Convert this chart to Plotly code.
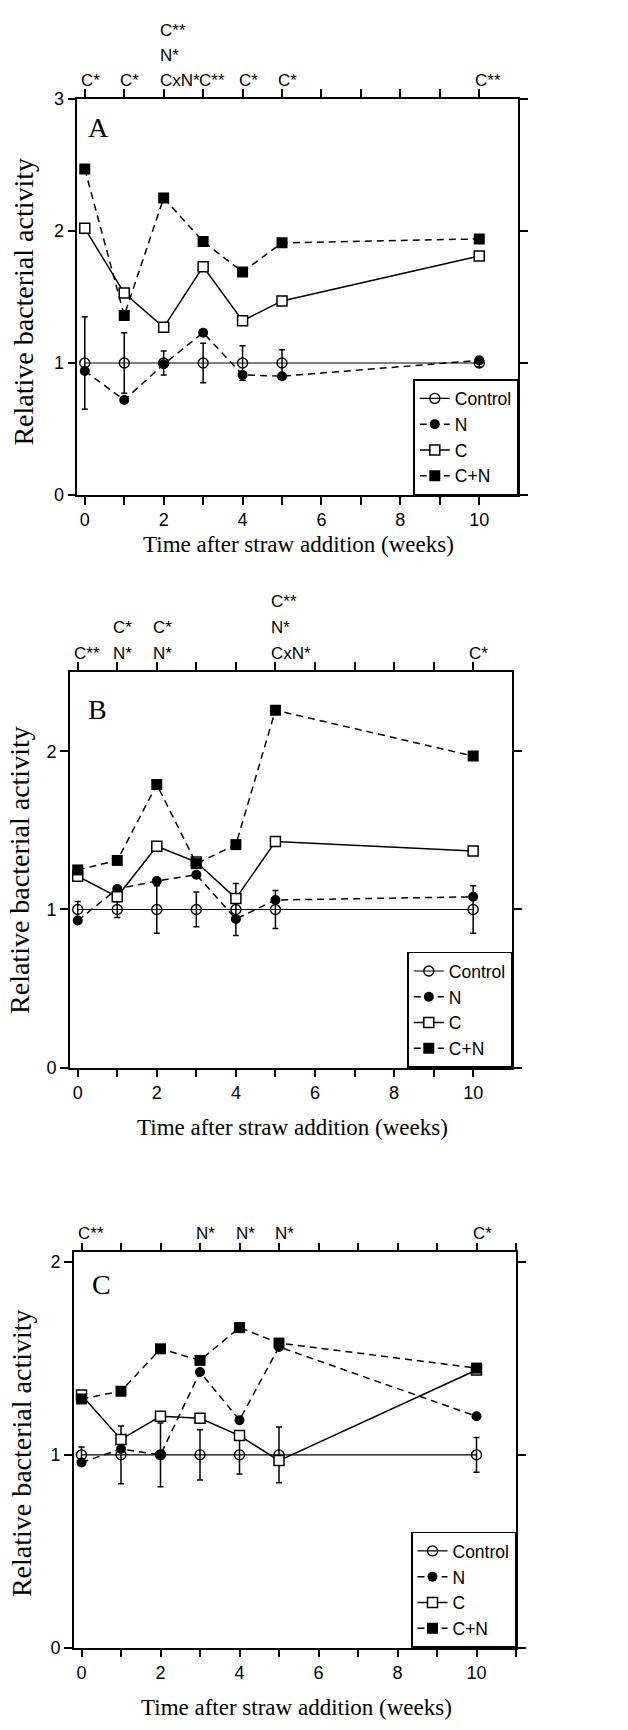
import plotly.graph_objects as go

W, H = 628, 1730

weeks = [0, 1, 2, 3, 4, 5, 10]
series_names = ["Control", "N", "C", "C+N"]

# Panel A
ctrl_A = [1, 1, 1, 1, 1, 1, 1]
ctrl_err_A = [0.35, 0.23, 0.09, 0.15, 0.13, 0.10, 0.03]
n_A = [0.94, 0.72, 0.99, 1.23, 0.91, 0.90, 1.02]
c_A = [2.02, 1.53, 1.27, 1.73, 1.32, 1.47, 1.81]
cn_A = [2.47, 1.36, 2.25, 1.92, 1.69, 1.91, 1.94]
sig_x_A = [0, 1, 2, 3, 4, 5, 10]
sig_text_A = ["C*", "C*", "C**\nN*\nCxN*", "C**", "C*", "C*", "C**"]

# Panel B
ctrl_B = [1, 1, 1, 1, 1, 1, 1]
ctrl_err_B = [0.05, 0.05, 0.15, 0.11, 0.165, 0.12, 0.15]
n_B = [0.93, 1.13, 1.18, 1.22, 0.94, 1.06, 1.08]
c_B = [1.21, 1.08, 1.40, 1.30, 1.07, 1.43, 1.37]
cn_B = [1.25, 1.31, 1.79, 1.29, 1.41, 2.26, 1.97]
sig_x_B = [0, 1, 2, 5, 10]
sig_text_B = ["C**", "C*\nN*", "C*\nN*", "C**\nN*\nCxN*", "C*"]

# Panel C
ctrl_C = [1, 1, 1, 1, 1, 1, 1]
ctrl_err_C = [0.04, 0.15, 0.165, 0.13, 0.10, 0.145, 0.09]
n_C = [0.96, 1.03, 1.00, 1.43, 1.18, 1.56, 1.20]
c_C = [1.31, 1.08, 1.20, 1.19, 1.10, 0.97, 1.44]
cn_C = [1.29, 1.33, 1.55, 1.49, 1.66, 1.58, 1.45]
sig_x_C = [0, 3, 4, 5, 10]
sig_text_C = ["C**", "N*", "N*", "N*", "C*"]

x_tickvals = list(range(0, 12))
x_ticktext = ["0", "", "2", "", "4", "", "6", "", "8", "", "10", ""]
panel_letters = ["A", "B", "C"]
x_title = "Time after straw addition (weeks)"
y_title = "Relative bacterial activity"

# geometry (pixels): left, right, top, bottom, xrange, yrange, yticks
panels = [
    dict(l=77.3, r=518.3, t=90, b=490.7, xr=[-0.19, 10.99], yr=[0, 3], yt=[0, 1, 2, 3],
         lab=(98, 119), xt=(298, 541), yti=(24, 295),
         data=(ctrl_A, ctrl_err_A, n_A, c_A, cn_A), sig=(sig_x_A, sig_text_A), rowgap=25),
    dict(l=70, r=512.3, t=670, b=1070, xr=[-0.195, 10.99], yr=[0, 2.5], yt=[0, 1, 2],
         lab=(97, 708), xt=(292, 1131), yti=(20, 870),
         data=(ctrl_B, ctrl_err_B, n_B, c_B, cn_B), sig=(sig_x_B, sig_text_B), rowgap=26.5),
    dict(l=74, r=516, t=1257, b=1656.7, xr=[-0.19, 11.0], yr=[0, 2.05], yt=[0, 1, 2],
         lab=(101, 1289), xt=(296, 1717), yti=(21, 1460),
         data=(ctrl_C, ctrl_err_C, n_C, c_C, cn_C), sig=(sig_x_C, sig_text_C), rowgap=25),
]


def px(x):
    return x / W


def py(y):
    return 1 - y / H


SANS = "Liberation Sans, Arial, sans-serif"
SERIF = "Liberation Serif, Times New Roman, serif"

fig = go.Figure()
layout = dict(width=W, height=H, margin=dict(l=0, r=0, t=0, b=0),
              paper_bgcolor="white", plot_bgcolor="white", showlegend=True)
annotations = []

for i, p in enumerate(panels):
    k = i + 1
    xa = "x" if k == 1 else f"x{k}"
    ya = "y" if k == 1 else f"y{k}"
    leg = "legend" if k == 1 else f"legend{k}"
    ctrl, ctrl_err, n, c, cn = p["data"]

    fig.add_trace(go.Scatter(
        x=weeks, y=ctrl, name=series_names[0], xaxis=xa, yaxis=ya, legend=leg,
        mode="lines+markers", line=dict(color="black", width=1.2),
        marker=dict(symbol="circle-open", size=10, color="black", line=dict(width=1.4)),
        error_y=dict(type="data", array=ctrl_err, visible=True, color="black",
                     thickness=1.5, width=3)))
    fig.add_trace(go.Scatter(
        x=weeks, y=n, name=series_names[1], xaxis=xa, yaxis=ya, legend=leg,
        mode="lines+markers", line=dict(color="black", width=1.5, dash="7px,5px"),
        marker=dict(symbol="circle", size=10, color="black")))
    fig.add_trace(go.Scatter(
        x=weeks, y=c, name=series_names[2], xaxis=xa, yaxis=ya, legend=leg,
        mode="lines+markers", line=dict(color="black", width=1.5),
        marker=dict(symbol="square", size=10, color="white", line=dict(color="black", width=1.5))))
    fig.add_trace(go.Scatter(
        x=weeks, y=cn, name=series_names[3], xaxis=xa, yaxis=ya, legend=leg,
        mode="lines+markers", line=dict(color="black", width=1.5, dash="7px,5px"),
        marker=dict(symbol="square", size=11, color="black")))

    axis_common = dict(showline=True, linecolor="black", linewidth=1.6, mirror="ticks",
                       ticks="outside", ticklen=8, tickwidth=1.5, tickcolor="black",
                       showgrid=False, zeroline=False, fixedrange=True,
                       tickfont=dict(family=SANS, size=18, color="black"))
    layout["xaxis" if k == 1 else f"xaxis{k}"] = dict(
        axis_common, domain=[px(p["l"]), px(p["r"])], range=p["xr"],
        tickmode="array", tickvals=x_tickvals, ticktext=x_ticktext, anchor=ya)
    layout["yaxis" if k == 1 else f"yaxis{k}"] = dict(
        axis_common, domain=[py(p["b"]), py(p["t"])], range=p["yr"],
        tickmode="array", tickvals=p["yt"], ticktext=[str(v) for v in p["yt"]], anchor=xa)

    layout[leg] = dict(x=px(p["r"]), xanchor="right", y=py(p["b"]), yanchor="bottom",
                       bgcolor="white", bordercolor="black", borderwidth=1.5,
                       font=dict(family=SANS, size=17.5, color="black"),
                       tracegroupgap=0, itemclick=False, itemdoubleclick=False)

    # panel letter
    annotations.append(dict(text=panel_letters[i], x=px(p["lab"][0]), y=py(p["lab"][1]),
                            xref="paper", yref="paper", showarrow=False,
                            xanchor="center", yanchor="middle",
                            font=dict(family=SERIF, size=28, color="black")))
    # axis titles
    annotations.append(dict(text=x_title, x=px(p["xt"][0]), y=py(p["xt"][1]),
                            xref="paper", yref="paper", showarrow=False,
                            xanchor="center", yanchor="middle",
                            font=dict(family=SERIF, size=23, color="black")))
    annotations.append(dict(text=y_title, x=px(p["yti"][0]), y=py(p["yti"][1]),
                            xref="paper", yref="paper", showarrow=False, textangle=-90,
                            xanchor="center", yanchor="middle",
                            font=dict(family=SERIF, size=28, color="black")))
    # significance labels above top axis
    sx, st = p["sig"]
    for xv, txt in zip(sx, st):
        lines = txt.split("\n")
        for j, line in enumerate(reversed(lines)):
            annotations.append(dict(text=line, x=xv, xref=xa, y=py(p["t"] - 19 - j * p["rowgap"]),
                                    yref="paper", showarrow=False, xanchor="left", xshift=-6,
                                    yanchor="middle",
                                    font=dict(family=SANS, size=17, color="black")))

layout["annotations"] = annotations
fig.update_layout(**layout)
fig.write_html("out.html", config={"displayModeBar": False},
               post_script="document.body.style.margin='0';document.body.style.overflow='hidden';")
